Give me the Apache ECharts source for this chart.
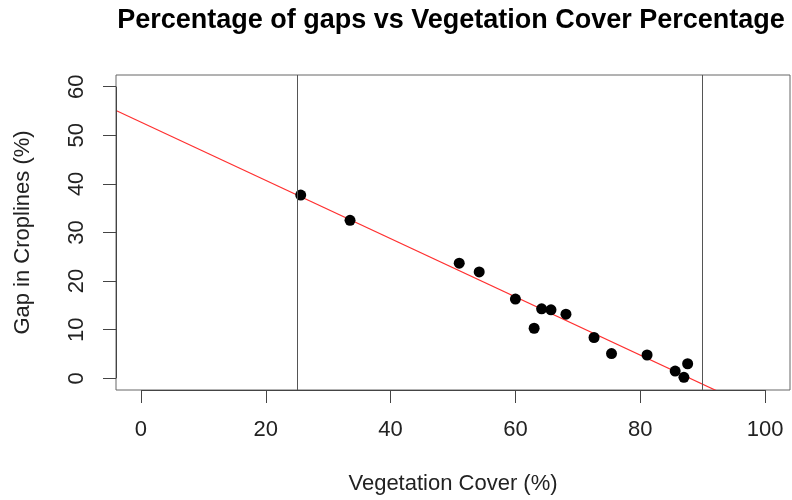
<!DOCTYPE html>
<html>
<head>
<meta charset="utf-8">
<script src="https://cdn.jsdelivr.net/npm/echarts@6/dist/echarts.min.js"></script>
<style>
  html, body { margin: 0; padding: 0; background: #ffffff; }
  #chart { width: 792px; height: 500px; }
</style>
</head>
<body>
<div id="chart"></div>
<script>
// Vegetation cover (%) and gaps in croplines (%) for each plot
const vegCover = [25.6, 33.5, 51.0, 54.2, 60.0, 63.0, 64.2, 65.7, 68.1, 72.6, 75.4, 81.1, 85.6, 87.0, 87.6];
const gapPct   = [37.7, 32.5, 23.7, 21.9, 16.3, 10.3, 14.3, 14.1, 13.2,  8.4,  5.1,  4.8,  1.5,  0.2,  3.0];

// Fitted regression line, end points at the plot edges
const fitX = [-4, 104];
const fitY = [55.1, -9.6];

// Vertical reference lines on vegetation cover
const refLines = [25, 90];

// Tick labels
const xTicks = [0, 20, 40, 60, 80, 100];
const yTicks = [0, 10, 20, 30, 40, 50, 60];

// Axis ranges (4% padding like base R plots)
const xRange = [-4, 104];
const yRange = [-2.4, 62.4];

const FONT = 'Liberation Sans, Arial, Helvetica, sans-serif';
const points = vegCover.map((v, i) => [v, gapPct[i]]);

const chart = echarts.init(document.getElementById('chart'), null, { renderer: 'canvas' });

chart.setOption({
  animation: false,
  backgroundColor: '#ffffff',
  title: {
    text: 'Percentage of gaps vs Vegetation Cover Percentage',
    left: 451,
    textAlign: 'center',
    top: 7,
    padding: 0,
    textStyle: { fontFamily: FONT, fontSize: 27, fontWeight: 'bold', color: '#000000' }
  },
  grid: {
    left: 116, right: 2, top: 75, bottom: 110,
    show: true, borderColor: '#666666', borderWidth: 1, backgroundColor: 'transparent'
  },
  xAxis: {
    type: 'value',
    min: xRange[0], max: xRange[1],
    name: 'Vegetation Cover (%)',
    nameLocation: 'middle',
    nameGap: 83,
    nameTextStyle: { fontFamily: FONT, fontSize: 22, color: '#222222' },
    axisLine: { show: false, onZero: false },
    splitLine: { show: false },
    axisTick: { show: true, length: 13, customValues: xTicks, lineStyle: { color: '#444444', width: 1 } },
    axisLabel: { customValues: xTicks, margin: 29, fontFamily: FONT, fontSize: 22, color: '#222222' }
  },
  yAxis: {
    type: 'value',
    min: yRange[0], max: yRange[1],
    name: 'Gap in Croplines (%)',
    nameLocation: 'middle',
    nameGap: 82,
    nameRotate: 90,
    nameTextStyle: { fontFamily: FONT, fontSize: 22, color: '#222222' },
    axisLine: { show: false, onZero: false },
    splitLine: { show: false },
    axisTick: { show: true, length: 13, customValues: yTicks, lineStyle: { color: '#444444', width: 1 } },
    axisLabel: { customValues: yTicks, rotate: 90, margin: 28, fontFamily: FONT, fontSize: 22, color: '#222222' }
  },
  series: [
    {
      name: 'axis segments',
      type: 'line',
      data: [],
      silent: true,
      markLine: {
        symbol: 'none',
        silent: true,
        animation: false,
        label: { show: false },
        lineStyle: { color: '#444444', width: 1, type: 'solid' },
        data: [
          [{ coord: [xTicks[0], yRange[0]] }, { coord: [xTicks[xTicks.length - 1], yRange[0]] }],
          [{ coord: [xRange[0], yTicks[0]] }, { coord: [xRange[0], yTicks[yTicks.length - 1]] }]
        ]
      }
    },
    {
      name: 'reference',
      type: 'line',
      data: [],
      silent: true,
      markLine: {
        symbol: 'none',
        silent: true,
        animation: false,
        label: { show: false },
        lineStyle: { color: '#555555', width: 1, type: 'solid' },
        data: refLines.map(v => ({ xAxis: v }))
      }
    },
    {
      name: 'fit',
      type: 'line',
      data: fitX.map((v, i) => [v, fitY[i]]),
      showSymbol: false,
      clip: true,
      lineStyle: { color: '#ff3030', width: 1.2 },
      z: 3
    },
    {
      name: 'plots',
      type: 'scatter',
      data: points,
      symbol: 'circle',
      symbolSize: 11,
      itemStyle: { color: '#000000', opacity: 1 },
      z: 4
    }
  ]
});
</script>
</body>
</html>
